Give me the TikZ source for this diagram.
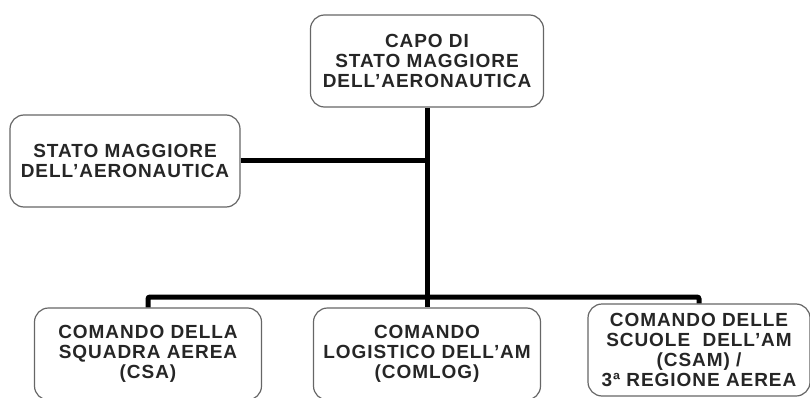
\documentclass[tikz,border=0pt]{standalone}
\usepackage{fontspec}
\setmainfont{Liberation Sans}[LetterSpace=5]
\begin{document}
\begin{tikzpicture}[x=1pt, y=-1pt,
    ente/.style={draw=black!60, line width=1.2pt, rounded corners=14pt,
      minimum width=230pt, minimum height=92pt, align=center, inner sep=2pt,
      text=black!85, font=\fontsize{19}{20}\selectfont\bfseries},
    conn/.style={line width=5pt, rounded corners=2pt}]
   \useasboundingbox (0,0) rectangle (810,398);
   \node[ente, minimum width=233pt] (capo) at (427,61) {CAPO DI\\STATO MAGGIORE\\DELL’AERONAUTICA};
   \node[ente] (sma) at (125,161) {STATO MAGGIORE\\DELL’AERONAUTICA};
   \node[ente, minimum width=227pt] (csa) at (148,354) {COMANDO DELLA\\SQUADRA AEREA\\(CSA)};
   \node[ente, minimum width=227pt] (comlog) at (427,354) {COMANDO\\LOGISTICO DELL’AM\\(COMLOG)};
   \node[ente, minimum width=222pt] (csam) at (699,350) {COMANDO DELLE\\SCUOLE \ DELL’AM\\(CSAM) /\\3ª REGIONE AEREA};
   \coordinate (bar) at (427,297);
   \draw[conn] (capo) -- (comlog);
   \draw[conn] (sma) -- (sma -| capo);
   \draw[conn] (csa.north) |- (bar) -| (csam.north);
\end{tikzpicture}
\end{document}
